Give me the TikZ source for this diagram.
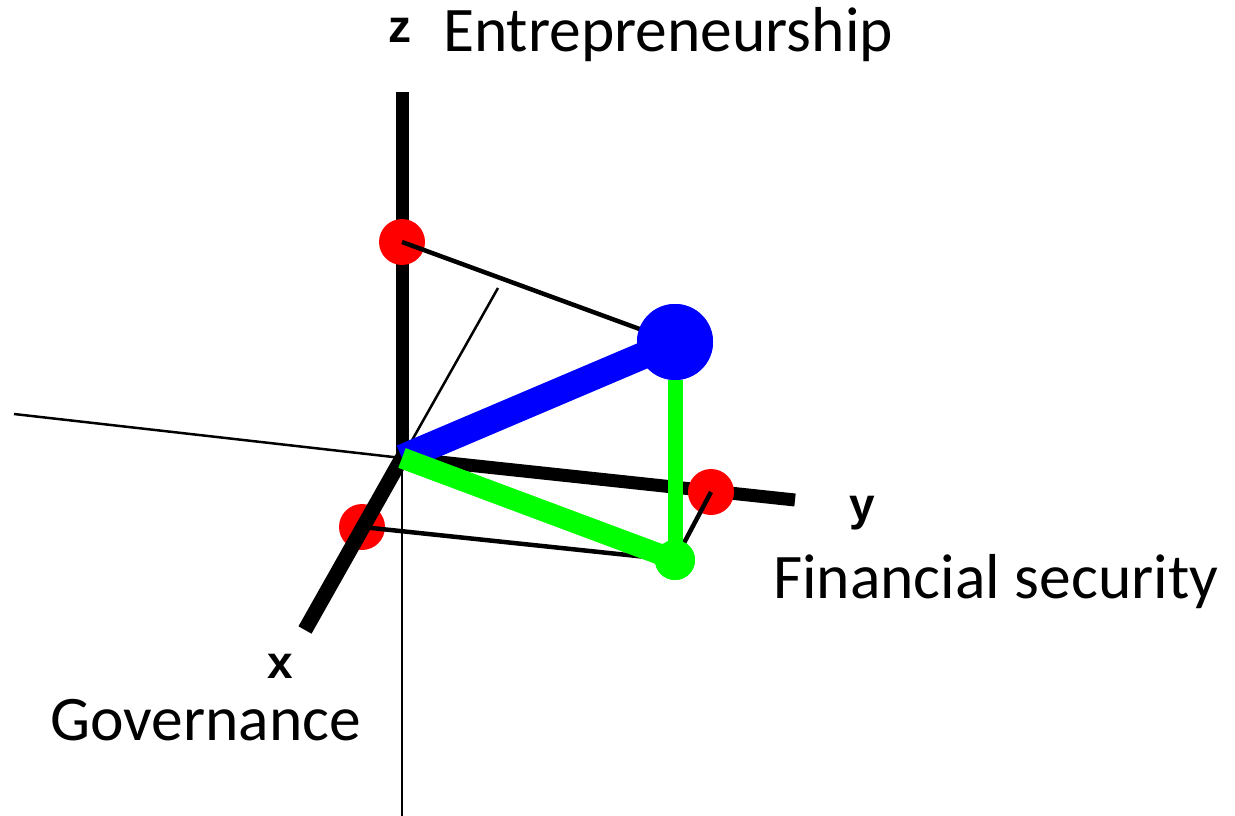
\documentclass[tikz,border=0pt]{standalone}
\usepackage{fontspec}
\setmainfont{Carlito}
\newfontfamily\axisfont{Liberation Sans}
\tikzset{
  thinax/.style={line width=2.5pt, black},
  thickax/.style={line width=13pt, black},
  proj/.style={line width=4.5pt, black},
  reddot/.style={circle, fill=red, draw=none, minimum size=46pt, inner sep=0pt},
  bluedot/.style={circle, fill=blue, draw=none, minimum size=76pt, inner sep=0pt},
  greendot/.style={circle, fill=green, draw=none, minimum size=40pt, inner sep=0pt},
  lbl/.style={font=\fontsize{63.5}{70}\selectfont, anchor=base west, inner sep=0pt},
  axl/.style={font=\axisfont\bfseries\fontsize{46}{50}\selectfont, inner sep=0pt},
}
\begin{document}
\begin{tikzpicture}[x=1pt,y=-1pt]
\useasboundingbox (0,0) rectangle (1235,816);
% anchor coordinates
\coordinate (O) at (402,458);
\coordinate (ztop) at (402,92);
\coordinate (zbot) at (402,816);
\coordinate (yend) at (795,500);
\coordinate (ynegend) at (14,414);
\coordinate (xend) at (305,630);
\coordinate (xnegend) at (498,288);
% thin axes
\draw[line width=2pt] (O) -- (zbot);
\draw[thinax] (O) -- (ynegend);
\draw[line width=2.5pt] (O) -- (xnegend);
% thick axes
\draw[thickax] (O) -- (yend);
\draw[thickax] (O) -- (ztop);
% points
\node[reddot] (rx) at (362,527) {};
\draw[line width=15pt] (O) -- (xend);
\node[reddot] (rz) at (402,242) {};
\node[reddot] (ry) at (711,492) {};
\node[bluedot] (b) at (675,342) {};
\node[greendot] (g) at (675,560) {};
% projection lines
\draw[proj] (rz.center) -- (b.center);
\draw[proj] (rx.center) -- (g.center);
\draw[proj] (ry.center) -- (g.center);
% vector and components
\draw[blue, line width=27pt] (O) -- (b.center);
\node[bluedot] at (b) {};
\draw[green, line width=21pt] (O) -- (g.center);
\draw[green, line width=15pt] (b.center) ++(0,38) -- (g.center);
\node[greendot] at (g) {};
% labels
\node[axl] (zl) at (400,30) {z};
\node[axl] (yl) at (862,513) {y};
\node[axl] (xl) at (280,666) {x};
\node[lbl] (ent) at (443,52) {Entrepreneurship};
\node[lbl] (fin) at (773,598) {Financial security};
\node[lbl] (gov) at (50,740) {Governance};
\end{tikzpicture}
\end{document}
